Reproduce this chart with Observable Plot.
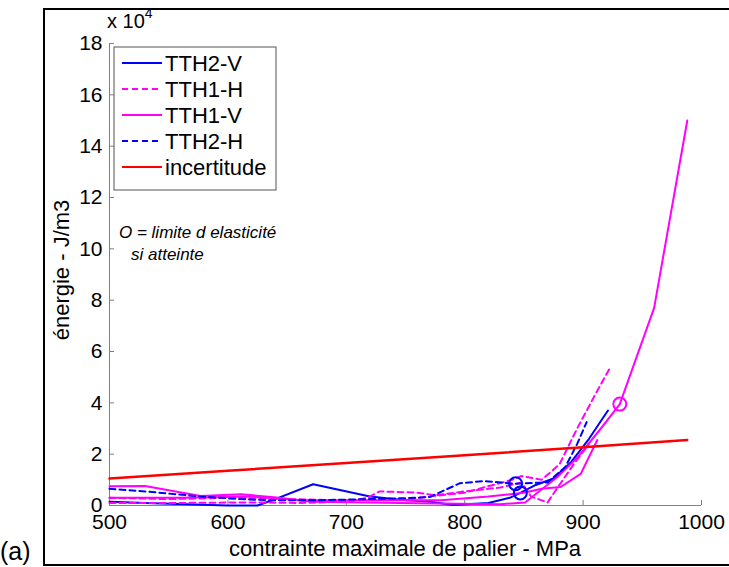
<!DOCTYPE html>
<html>
<head>
<meta charset="utf-8">
<script src="https://cdn.jsdelivr.net/npm/d3@7"></script>
<script src="https://cdn.jsdelivr.net/npm/@observablehq/plot@0.6"></script>
<style>
  body { margin: 0; background: #fff; }
  #wrap { position: relative; width: 729px; height: 567px; overflow: hidden; background: #fff; font-family: "Liberation Sans", Arial, sans-serif; }
  #wrap > svg { position: absolute; left: 0; top: 0; }
  #overlay { position: absolute; left: 0; top: 0; pointer-events: none; }
</style>
</head>
<body>
<div id="wrap"></div>
<script>
// ---- tick values ----
const xTicks = [500, 600, 700, 800, 900, 1000];
const yTicks = [0, 2, 4, 6, 8, 10, 12, 14, 16, 18];

// ---- series (x: contrainte MPa, y: énergie in units of 1e4 J/m3) ----
const tth2v_x = [500, 530, 600, 625, 640, 672, 720, 746, 771, 790, 820, 838, 847, 860, 875, 890, 905, 921];
const tth2v_y = [0.15, 0.1, 0.0, 0.0, 0.25, 0.83, 0.35, 0.22, 0.15, 0.02, 0.1, 0.3, 0.49, 0.8, 1.05, 1.7, 2.6, 3.7];

const tth1hA_x = [500, 560, 620, 660, 700, 718, 728, 760, 775, 800, 830, 848, 856, 870, 880, 892, 905];
const tth1hA_y = [0.1, 0.1, 0.12, 0.1, 0.15, 0.3, 0.55, 0.5, 0.4, 0.55, 0.7, 0.9, 0.35, 0.12, 0.8, 1.6, 2.4];
const tth1hB_x = [500, 550, 600, 650, 700, 750, 800, 840, 848, 865, 880, 895, 910, 922];
const tth1hB_y = [0.3, 0.25, 0.3, 0.25, 0.2, 0.25, 0.5, 1.0, 1.15, 1.0, 1.6, 3.0, 4.3, 5.3];

const tth1vA_x = [500, 530, 577, 611, 639, 672, 760, 830, 851, 878, 895, 915, 931, 960, 988];
const tth1vA_y = [0.75, 0.76, 0.37, 0.44, 0.32, 0.15, 0.09, 0.05, 0.12, 1.1, 1.86, 3.0, 3.95, 7.7, 15.0];
const tth1vB_x = [500, 560, 620, 660, 720, 780, 820, 850, 865, 881, 898, 912];
const tth1vB_y = [0.3, 0.3, 0.35, 0.2, 0.2, 0.2, 0.35, 0.5, 0.65, 0.72, 1.23, 2.55];

const tth2h_x = [500, 530, 577, 610, 640, 672, 720, 760, 771, 796, 816, 843, 870, 885, 895, 903];
const tth2h_y = [0.65, 0.55, 0.35, 0.25, 0.2, 0.2, 0.25, 0.3, 0.34, 0.87, 0.95, 0.85, 0.9, 1.5, 2.4, 3.25];

const incert_x = [500, 600, 700, 800, 900, 988];
const incert_y = [1.05, 1.35, 1.66, 1.96, 2.27, 2.55];

// elastic-limit markers
const circ_x = [843, 847, 931];
const circ_y = [0.85, 0.49, 3.95];
const circ_c = ["#0000ff", "#0000ff", "#ff00ff"];

// legend
const legendLabels = ["TTH2-V", "TTH1-H", "TTH1-V", "TTH2-H", "incertitude"];
const legendColors = ["#0000ff", "#ff00ff", "#ff00ff", "#0000ff", "#ff0000"];
const legendDash = [null, "6,4", null, "6,4", null];

const pts = (xs, ys) => xs.map((x, i) => ({x, y: ys[i]}));
const circles = circ_x.map((x, i) => ({x, y: circ_y[i], c: circ_c[i]}));

const W = 729, H = 567;
const mL = 109, mR = 28, mT = 43, mB = 62;
const plotW = W - mL - mR, plotH = H - mT - mB;

const axisGray = "#808080";
const lw = 2;

const chart = Plot.plot({
  width: W, height: H,
  marginLeft: mL, marginRight: mR, marginTop: mT, marginBottom: mB,
  style: {background: "transparent", fontFamily: "Liberation Sans, Arial, sans-serif", fontSize: "21px", color: "#000"},
  x: {domain: [500, 1000], axis: null},
  y: {domain: [0, 18], axis: null},
  marks: [
    Plot.ruleX([500], {stroke: axisGray, strokeWidth: 1}),
    Plot.ruleY([0], {stroke: axisGray, strokeWidth: 1}),
    Plot.tickY(yTicks, {y: d => d, insetRight: plotW - 5, stroke: axisGray}),
    Plot.tickX(xTicks, {x: d => d, insetTop: plotH - 5, stroke: axisGray}),
    Plot.axisY(yTicks, {tickSize: 0, tickPadding: 7, label: null, tickFormat: d => String(d), fill: "#000"}),
    Plot.axisX(xTicks, {tickSize: 0, tickPadding: 9, label: null, tickFormat: d => String(d), fill: "#000"}),
    Plot.line(pts(tth2v_x, tth2v_y), {x: "x", y: "y", stroke: "#0000ff", strokeWidth: lw}),
    Plot.line(pts(tth1hA_x, tth1hA_y), {x: "x", y: "y", stroke: "#ff00ff", strokeWidth: lw, strokeDasharray: "6,4"}),
    Plot.line(pts(tth1hB_x, tth1hB_y), {x: "x", y: "y", stroke: "#ff00ff", strokeWidth: lw, strokeDasharray: "6,4"}),
    Plot.line(pts(tth1vA_x, tth1vA_y), {x: "x", y: "y", stroke: "#ff00ff", strokeWidth: lw}),
    Plot.line(pts(tth1vB_x, tth1vB_y), {x: "x", y: "y", stroke: "#ff00ff", strokeWidth: lw}),
    Plot.line(pts(tth2h_x, tth2h_y), {x: "x", y: "y", stroke: "#0000ff", strokeWidth: lw, strokeDasharray: "6,4"}),
    Plot.line(pts(incert_x, incert_y), {x: "x", y: "y", stroke: "#ff0000", strokeWidth: 2.5}),
    Plot.dot(circles, {x: "x", y: "y", r: 6.5, stroke: "c", fill: "none", strokeWidth: 2})
  ]
});

const wrap = document.getElementById("wrap");
wrap.appendChild(chart);

// overlay: frame, titles, legend, annotations
const ns = "http://www.w3.org/2000/svg";
const ov = document.createElementNS(ns, "svg");
ov.setAttribute("id", "overlay");
ov.setAttribute("width", W);
ov.setAttribute("height", H);
ov.setAttribute("font-family", "Liberation Sans, Arial, sans-serif");
function el(tag, attrs, text) {
  const e = document.createElementNS(ns, tag);
  for (const k in attrs) e.setAttribute(k, attrs[k]);
  if (text != null) e.textContent = text;
  ov.appendChild(e);
  return e;
}
// figure frame
el("path", {d: "M 740 9 H 44 V 565 H 740", fill: "none", stroke: "#000", "stroke-width": 2});
// exponent
const t = el("text", {x: 107, y: 28, "font-size": 20, fill: "#000"});
const t1 = document.createElementNS(ns, "tspan"); t1.textContent = "x 10"; t.appendChild(t1);
const t2 = document.createElementNS(ns, "tspan"); t2.textContent = "4"; t2.setAttribute("font-size", 14); t2.setAttribute("dy", -10); t.appendChild(t2);
// axis titles
el("text", {x: 405, y: 556, "font-size": 22, "text-anchor": "middle", fill: "#000"}, "contrainte maximale de palier - MPa");
el("text", {transform: "translate(69,270) rotate(-90)", "font-size": 22, "text-anchor": "middle", fill: "#000"}, "énergie - J/m3");
// (a)
el("text", {x: 0, y: 560, "font-size": 25, fill: "#000"}, "(a)");
// annotation
el("text", {x: 119, y: 238, "font-size": 17, "font-style": "italic", fill: "#000"}, "O = limite d elasticité");
el("text", {x: 131, y: 260, "font-size": 17, "font-style": "italic", fill: "#000"}, "si atteinte");
// legend
el("rect", {x: 114, y: 47, width: 162, height: 143, fill: "#fff", stroke: "#555", "stroke-width": 1});
legendLabels.forEach((lab, i) => {
  const yy = 63 + i * 26;
  const a = {x1: 122, x2: 162, y1: yy, y2: yy, stroke: legendColors[i], "stroke-width": 2};
  if (legendDash[i]) a["stroke-dasharray"] = legendDash[i];
  el("line", a);
  el("text", {x: 165, y: yy + 8, "font-size": 22, fill: "#000"}, lab);
});
wrap.appendChild(ov);
</script>
</body>
</html>
